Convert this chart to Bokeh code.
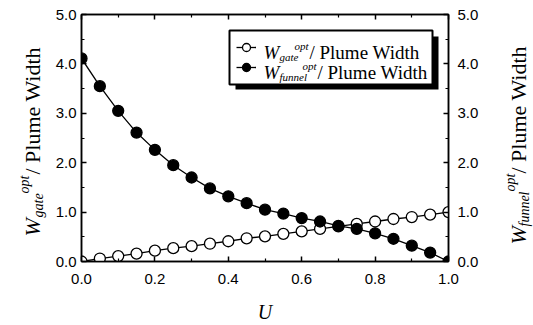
import numpy as np
from bokeh.plotting import figure
from bokeh.layouts import row
from bokeh.models import (Range1d, LinearAxis, FixedTicker, BoxAnnotation,
                          Legend, LegendItem, ColumnDataSource)
from bokeh.core.properties import value
from bokeh.embed import file_html
from bokeh.resources import INLINE

# ---------------- data ----------------
u = [0.00, 0.05, 0.10, 0.15, 0.20, 0.25, 0.30, 0.35, 0.40, 0.45, 0.50,
     0.55, 0.60, 0.65, 0.70, 0.75, 0.80, 0.85, 0.90, 0.95, 1.00]
gate_ratio = [0.00, 0.06, 0.11, 0.16, 0.22, 0.27, 0.31, 0.36, 0.41, 0.47, 0.51,
              0.56, 0.61, 0.66, 0.71, 0.76, 0.81, 0.86, 0.90, 0.95, 1.00]
funnel_ratio = [4.11, 3.55, 3.05, 2.61, 2.26, 1.95, 1.70, 1.48, 1.32, 1.18, 1.05,
                0.97, 0.88, 0.81, 0.72, 0.66, 0.57, 0.46, 0.32, 0.18, 0.00]

x_ticks = [0.0, 0.2, 0.4, 0.6, 0.8, 1.0]
x_tick_labels = ["0.0", "0.2", "0.4", "0.6", "0.8", "1.0"]
x_minor = [0.1, 0.3, 0.5, 0.7, 0.9]
y_ticks = [0.0, 1.0, 2.0, 3.0, 4.0, 5.0]
y_tick_labels = ["0.0", "1.0", "2.0", "3.0", "4.0", "5.0"]
y_minor = [0.5, 1.5, 2.5, 3.5, 4.5]

x_title = "U"
sub_gate, sub_funnel, sup_opt, ratio_text = "gate", "funnel", "opt", "/ Plume Width"

SERIF = "Liberation Serif"
SANS = "Liberation Sans"

# ---------------- layout geometry (page px) ----------------
H = 325
FL, FR, FT, FB = 81, 448, 14, 261      # plot frame edges on the page
LW = 48                                 # width of left title strip
RX = 488                                # x where right title strip starts
RW = 533 - RX

# ---------------- main figure ----------------
p = figure(width=RX - LW, height=H, x_range=Range1d(0, 1), y_range=Range1d(0, 5),
           output_backend="svg", toolbar_location=None,
           min_border_left=FL - LW, min_border_right=RX - FR,
           min_border_top=FT, min_border_bottom=H - FB)
p.xgrid.visible = False
p.ygrid.visible = False
p.background_fill_color = "white"
p.border_fill_color = "white"
p.outline_line_color = "black"
p.outline_line_width = 1.5

p.add_layout(LinearAxis(), "right")
p.add_layout(LinearAxis(), "above")

def style_axis(ax, ticks, labels, minor, standoff, show_labels=True):
    ax.ticker = FixedTicker(ticks=ticks, minor_ticks=minor)
    ax.major_label_overrides = {t: l for t, l in zip(ticks, labels)}
    ax.major_tick_in = 5
    ax.major_tick_out = 0
    ax.minor_tick_in = 3
    ax.minor_tick_out = 0
    ax.axis_line_width = 1.5
    ax.major_tick_line_width = 1.5
    ax.minor_tick_line_width = 1.2
    ax.axis_line_color = "black"
    ax.major_tick_line_color = "black"
    ax.minor_tick_line_color = "black"
    ax.major_label_text_font = SANS
    ax.major_label_text_font_size = "15px"
    ax.major_label_text_color = "black"
    ax.major_label_standoff = standoff
    if not show_labels:
        ax.major_label_text_alpha = 0
        ax.major_label_text_font_size = "1px"

style_axis(p.below[0], x_ticks, x_tick_labels, x_minor, 12)
style_axis(p.above[0], x_ticks, x_tick_labels, x_minor, 0, show_labels=False)
style_axis(p.left[0], y_ticks, y_tick_labels, y_minor, 5)
style_axis(p.right[0], y_ticks, y_tick_labels, y_minor, 9)

xa = p.below[0]
xa.axis_label = x_title
xa.axis_label_text_font = SERIF
xa.axis_label_text_font_style = "italic"
xa.axis_label_text_font_size = "20px"
xa.axis_label_text_color = "black"
xa.axis_label_standoff = 14

# page px -> data coords (for placing the legend decoration/texts)
def dx(px):
    return (px - FL) / (FR - FL)
def dy(py):
    return (FB - py) / (FB - FT) * 5.0

# ---------------- legend box (drawn beneath everything) ----------------
p.add_layout(BoxAnnotation(left=dx(235), right=dx(438), top=dy(36), bottom=dy(89),
                           fill_color="black", fill_alpha=1.0, line_alpha=0,
                           level="underlay"))
p.add_layout(BoxAnnotation(left=dx(229), right=dx(432), top=dy(30), bottom=dy(84),
                           fill_color="white", fill_alpha=1.0,
                           line_color="black", line_width=2, line_alpha=1.0,
                           level="underlay"))

# ---------------- series ----------------
src = ColumnDataSource(dict(u=u, gate=gate_ratio, funnel=funnel_ratio))
gl = p.line("u", "gate", source=src, line_color="black", line_width=1.3)
gs = p.scatter("u", "gate", source=src, size=11, marker="circle",
               fill_color="white", line_color="black", line_width=1.3)
fl = p.line("u", "funnel", source=src, line_color="black", line_width=1.3)
fs = p.scatter("u", "funnel", source=src, size=11, marker="circle",
               fill_color="black", line_color="black", line_width=1.3)

# legend samples only (transparent legend placed over the box)
legend = Legend(items=[LegendItem(label=" ", renderers=[gl, gs]),
                       LegendItem(label=" ", renderers=[fl, fs])],
                location="top_right", margin=16, padding=7, spacing=0,
                glyph_width=20, glyph_height=20, label_height=20,
                label_width=169, label_standoff=0,
                border_line_alpha=0, background_fill_alpha=0,
                label_text_font_size="12px")
p.add_layout(legend)

def txt(fig, xs, ys, text, size, italic=False, angle=0.0, align="left"):
    fig.text(x=xs, y=ys, text=[text], angle=angle,
             text_font=value(SERIF),
             text_font_style=value("italic" if italic else "normal"),
             text_font_size=value(f"{size}px"), text_color="black",
             text_align=value(align), text_baseline=value("alphabetic"))

# legend texts
txt(p, [dx(263)], [dy(52)], "W", 19, True)
txt(p, [dx(279)], [dy(56)], sub_gate, 11, True)
txt(p, [dx(294)], [dy(45)], sup_opt, 11, True)
txt(p, [dx(309)], [dy(52)], ratio_text, 19)

txt(p, [dx(263)], [dy(72)], "W", 19, True)
txt(p, [dx(279)], [dy(76)], sub_funnel, 11, True)
txt(p, [dx(302)], [dy(65)], sup_opt, 11, True)
txt(p, [dx(317)], [dy(72)], ratio_text, 19)

# ---------------- side strips for rotated axis titles ----------------
# the strips' frames are aligned with the main frame (page y 14..261),
# so their y range is expressed directly in page pixels
def strip(width):
    f = figure(width=width, height=H, x_range=Range1d(0, width), y_range=Range1d(FB, FT),
               output_backend="svg", toolbar_location=None,
               x_axis_type=None, y_axis_type=None,
               min_border_left=0, min_border_right=0,
               min_border_top=FT, min_border_bottom=H - FB)
    f.xgrid.visible = False
    f.ygrid.visible = False
    f.outline_line_color = None
    f.background_fill_color = "white"
    f.border_fill_color = "white"
    return f

R = np.pi / 2

left = strip(LW)
txt(left, [32], [236], "W", 22, True, angle=R)
txt(left, [38], [217], sub_gate, 14, True, angle=R)
txt(left, [24], [193], sup_opt, 14, True, angle=R)
txt(left, [32], [174], ratio_text, 22, angle=R)

right = strip(RW)
ox = RX
txt(right, [518 - ox], [244], "W", 22, True, angle=R)
txt(right, [524 - ox], [226], sub_funnel, 14, True, angle=R)
txt(right, [510 - ox], [191], sup_opt, 14, True, angle=R)
txt(right, [518 - ox], [173], ratio_text, 22, angle=R)

layout = row(left, p, right, spacing=0)
open("out.html", "w").write(file_html(layout, INLINE))
